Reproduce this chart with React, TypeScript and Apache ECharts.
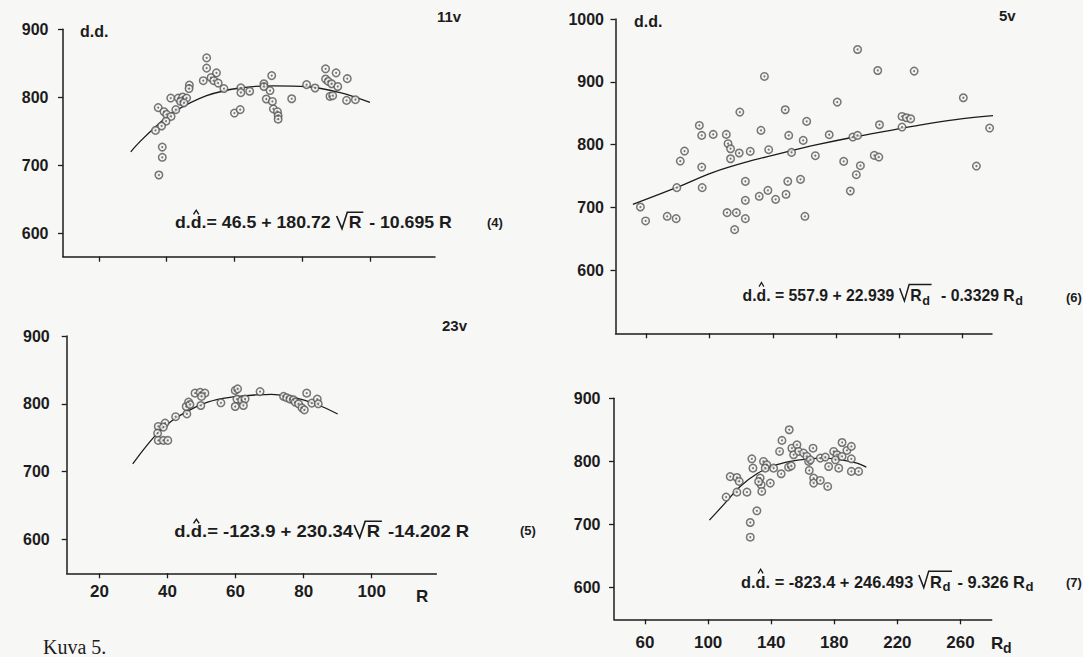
import React, { useEffect, useRef } from "react";
import * as echarts from "echarts";

// ---------- data ----------
const ticksR = [20, 40, 60, 80, 100];
const ticksRd = [60, 100, 140, 180, 220, 260];
const ticksDD = [600, 700, 800, 900];
const ticksDD5v = [600, 700, 800, 900, 1000];

// panel 11v : R vs d.d.
const pts11v: [number, number][] = [
  [51.8, 858], [51.8, 843], [50.8, 824.5], [53.1, 829], [54.7, 836], [53.9, 824.5], [55.2, 821], [56.9, 813],
  [46.7, 818], [46.6, 813], [41.2, 799], [43.4, 799], [44.7, 800.6], [45.9, 799], [44.1, 794], [45.1, 792],
  [42.7, 782], [37.5, 785], [39.2, 779], [40.0, 775], [41.3, 772], [39.8, 765], [38.5, 758], [36.7, 751.5],
  [38.7, 727], [38.7, 712], [37.7, 686], [61.9, 814], [61.9, 807], [64.5, 809], [60.0, 777], [61.7, 782],
  [71.0, 832], [68.7, 820], [68.7, 816], [70.5, 810], [69.4, 797.6], [71.2, 794], [71.5, 783], [72.7, 779],
  [72.9, 773], [72.9, 768], [76.9, 798], [81.3, 818.7], [83.8, 813.8], [86.9, 842], [90.0, 836], [86.9, 827],
  [87.7, 823.5], [88.7, 820], [90.5, 816], [93.3, 827.5], [88.2, 801.5], [89.0, 802.5], [93.1, 795.6], [95.7, 796.6],
];
const curve11v: [number, number][] = [
  [29.4, 720], [32.1, 735], [37, 758], [41.9, 778], [51.8, 802.5], [61.6, 813.8], [71.5, 817], [81.3, 816], [91.2, 807], [100, 792.6],
];

// panel 23v : R vs d.d.
const pts23v: [number, number][] = [
  [37.3, 766.6], [39.3, 771.5], [37.1, 756.7], [38.8, 765.6], [37.3, 746], [38.8, 746], [40.1, 746], [42.4, 781],
  [45.7, 785], [45.5, 796], [46.2, 802.5], [46.6, 799], [48.1, 815.7], [49.6, 817], [51, 815.7], [50, 810.8],
  [49.8, 797.5], [55.7, 801.5], [59.9, 819.7], [60.6, 822], [60.4, 807], [61.8, 805], [62.8, 807], [62.3, 797.5],
  [59.9, 796], [67.2, 818], [74.1, 811], [75, 809], [76, 807], [77, 806], [77.5, 802.5], [78.5, 800],
  [79.5, 794], [80.2, 791], [80.9, 815.7], [82.4, 801], [84, 807], [84.3, 800],
];
const curve23v: [number, number][] = [
  [29.8, 711.5], [36.4, 753], [41.3, 775], [46.2, 790], [51, 801], [55.9, 807.5], [60.8, 811], [65.7, 813], [70.6, 814],
  [75.5, 811], [80.4, 805], [85.3, 796], [90, 785],
];

// panel 5v : Rd vs d.d.
const pts5v: [number, number][] = [
  [56, 700.9], [59.3, 678.7], [73, 686.1], [78.7, 682.4], [79.1, 731.7], [81.3, 774], [84, 789.9], [93.4, 830.7],
  [94.9, 814.8], [94.9, 764.5], [95.2, 731.7], [102.2, 816.4], [110.5, 816.4], [111.6, 801.6], [113.2, 793.6], [113.2, 777.7],
  [111, 691.9], [116.9, 691.9], [115.8, 664.9], [119.1, 851.9], [118.7, 786.8], [122.6, 741.7], [122.6, 711.5], [122.6, 682.4],
  [125.7, 789.4], [131.4, 717.9], [132.5, 822.8], [134.7, 908.6], [136.9, 727.4], [137.4, 792.1], [141.8, 713.1], [147.9, 855.6],
  [148.4, 721.1], [149.5, 741.7], [150.1, 814.8], [151.9, 787.8], [157.6, 744.9], [159.3, 806.9], [160.4, 686.1], [161.5, 837.1],
  [167, 782.5], [175.8, 815.9], [180.9, 867.8], [185, 773.5], [189.2, 726.4], [190.8, 812.2], [193, 752.3], [193.8, 951.5],
  [193.8, 814.8], [195.6, 766.6], [204.4, 783], [207.3, 780.4], [206.6, 918.1], [207.7, 831.8], [222, 828.1], [222, 845],
  [224.8, 842.9], [227.5, 841.3], [229.7, 917.1], [260.9, 874.7], [269.2, 766.1], [277.6, 826.5],
];
const curve5v: [number, number][] = [
  [51.2, 705], [79.1, 732], [102.2, 756], [124.2, 773], [146.2, 787], [168.1, 800], [190.1, 811.5], [212.1, 821.7],
  [234.1, 831.5], [256, 840], [281.3, 846.6],
];

// panel (7) : Rd vs d.d.
const pts7: [number, number][] = [
  [111.4, 743.5], [114, 776], [118.2, 774.6], [119.7, 768.3], [118.2, 751.4], [124.6, 751.4], [127.7, 804.2], [128.4, 789.4],
  [126.7, 703.3], [126.7, 680], [130.9, 721.8], [133, 773.6], [133.6, 763], [134, 752.5], [132, 768], [135.1, 800],
  [137.2, 794.7], [136.2, 789.4], [139.4, 765.7], [141.5, 789.4], [145.3, 815.8], [146.3, 780.5], [146.8, 833.3], [151.4, 850.2],
  [151, 791], [152.7, 793], [153.1, 821], [154.2, 810.6], [156.3, 826.4], [157.4, 815.8], [160.5, 813.2], [162.6, 808],
  [163.7, 800], [164.8, 802.6], [166.5, 821], [164.1, 785.7], [166.9, 773.6], [166.9, 765.7], [171.1, 769.9], [175.8, 760.4],
  [171.1, 805.3], [174.3, 806.9], [176.4, 792], [179.6, 815.8], [181.7, 810.6], [182.8, 789.4], [180.7, 802.6], [184.9, 830],
  [184.9, 807.9], [188, 817.4], [190.8, 823.8], [190.8, 804.2], [190.8, 784.2], [195.4, 784.2],
];
const curve7: [number, number][] = [
  [100.8, 707], [109.7, 731.3], [120.3, 760.4], [130.9, 780.5], [141.5, 793], [152.1, 800], [162.6, 803.7], [173.2, 805.3],
  [183.8, 802.6], [194.4, 797.4], [200.3, 791],
];

// ---------- styling ----------
const INK = "#1c1c1c";
const FONT = "'Liberation Sans', Arial, sans-serif";

type Seg = { t?: string; sub?: string; rad?: Seg[] };

let measureCtx: CanvasRenderingContext2D | null = null;
function measure(text: string, size: number): number {
  if (!measureCtx) measureCtx = document.createElement("canvas").getContext("2d");
  if (!measureCtx) return text.length * size * 0.55;
  measureCtx.font = `bold ${size}px 'Liberation Sans'`;
  return measureCtx.measureText(text).width;
}

function txt(x: number, y: number, text: string, size: number, weight = "bold", family = FONT, va = "middle") {
  return {
    type: "text",
    x,
    y,
    silent: true,
    style: {
      text,
      fill: INK,
      fontSize: size,
      fontWeight: weight,
      fontFamily: family,
      align: "left",
      verticalAlign: va,
      textAlign: "left",
      textVerticalAlign: va,
    },
  };
}

function buildEq(x0: number, y0: number, targetW: number, segs: Seg[], fs: number) {
  const children: any[] = [];
  let cx = 0;
  const subFs = fs * 0.8;
  const place = (seg: Seg) => {
    if (seg.t !== undefined) {
      children.push(txt(cx, 0, seg.t, fs));
      cx += measure(seg.t, fs);
    } else if (seg.sub !== undefined) {
      children.push(txt(cx + 0.5, fs * 0.32, seg.sub, subFs));
      cx += measure(seg.sub, subFs) + 0.5;
    } else if (seg.rad) {
      const rx = cx + fs * 0.05;
      const armW = fs * 0.6;
      cx = rx + armW + fs * 0.08;
      seg.rad.forEach(place);
      const endX = cx + fs * 0.1;
      children.push({
        type: "polyline",
        silent: true,
        shape: {
          points: [
            [rx, -0.42 * fs],
            [rx + 0.3 * fs, 0.37 * fs],
            [rx + armW, -0.66 * fs],
            [endX, -0.66 * fs],
          ],
        },
        style: { stroke: INK, lineWidth: 1.5, fill: null },
      });
      cx = endX + fs * 0.05;
    }
  };
  segs.forEach(place);
  const hx = measure("d.", fs) + measure("d", fs) / 2;
  children.push({
    type: "polyline",
    silent: true,
    shape: { points: [[hx - 0.15 * fs, -0.52 * fs], [hx, -0.78 * fs], [hx + 0.15 * fs, -0.52 * fs]] },
    style: { stroke: INK, lineWidth: 1.3, fill: null },
  });
  return { type: "group", x: x0, y: y0, scaleX: targetW / cx, children };
}

const plain = (v: number) => String(v);

function xAx(gridIndex: number, min: number, max: number, ticks: number[], showLabels: boolean, margin: number) {
  return {
    type: "value",
    gridIndex,
    min,
    max,
    splitLine: { show: false },
    axisLine: { show: true, onZero: false, lineStyle: { color: INK, width: 1.5 } },
    axisTick: { show: true, length: 5, customValues: ticks, lineStyle: { color: INK, width: 1.3 } },
    axisLabel: {
      show: showLabels,
      customValues: ticks,
      formatter: plain,
      margin,
      fontSize: 17,
      fontWeight: "bold",
      fontFamily: FONT,
      color: INK,
    },
  };
}

function yAx(gridIndex: number, min: number, max: number, ticks: number[], margin: number) {
  return {
    type: "value",
    gridIndex,
    min,
    max,
    splitLine: { show: false },
    axisLine: { show: true, onZero: false, lineStyle: { color: INK, width: 1.5 } },
    axisTick: { show: true, length: 5, customValues: ticks, lineStyle: { color: INK, width: 1.3 } },
    axisLabel: {
      show: true,
      customValues: ticks,
      formatter: plain,
      margin,
      fontSize: 16,
      fontWeight: "bold",
      fontFamily: FONT,
      color: INK,
    },
  };
}

function panelSeries(idx: number, pts: [number, number][], curve: [number, number][]) {
  return [
    {
      type: "line",
      xAxisIndex: idx,
      yAxisIndex: idx,
      data: curve,
      smooth: 0.35,
      showSymbol: false,
      symbol: "none",
      silent: true,
      z: 2,
      lineStyle: { color: INK, width: 1.3 },
    },
    {
      type: "scatter",
      xAxisIndex: idx,
      yAxisIndex: idx,
      data: pts,
      symbol: "circle",
      symbolSize: 7.5,
      silent: true,
      z: 3,
      itemStyle: { color: "#f2f2f2", borderColor: "#555555", borderWidth: 1.5 },
    },
    {
      type: "scatter",
      xAxisIndex: idx,
      yAxisIndex: idx,
      data: pts,
      symbol: "circle",
      symbolSize: 2,
      silent: true,
      z: 4,
      itemStyle: { color: "#555555" },
    },
  ];
}

export default function App() {
  const ref = useRef<HTMLDivElement>(null);
  useEffect(() => {
    if (!ref.current) return;
    const chart = echarts.init(ref.current, null, { renderer: "svg" });
    const option: any = {
      animation: false,
      backgroundColor: "#f7f7f6",
      grid: [
        { left: 63, top: 29.3, width: 372, height: 227.4, outerBoundsMode: "none" },
        { left: 66.7, top: 336, width: 369.7, height: 237.3, outerBoundsMode: "none" },
        { left: 615.5, top: 19, width: 376.5, height: 314.3, outerBoundsMode: "none" },
        { left: 614, top: 398.3, width: 377.7, height: 221, outerBoundsMode: "none" },
      ],
      xAxis: [
        xAx(0, 9.4, 119.2, ticksR, false, 10),
        xAx(1, 10.4, 119, ticksR, true, 10),
        xAx(2, 40.2, 279.1, ticksRd, false, 10),
        xAx(3, 40.3, 279.8, ticksRd, true, 15),
      ],
      yAxis: [
        yAx(0, 566, 900, ticksDD, 14.5),
        yAx(1, 550, 900, ticksDD, 17),
        yAx(2, 500, 1000, ticksDD5v, 11.5),
        yAx(3, 550, 900, ticksDD, 13.5),
      ],
      series: [
        ...panelSeries(0, pts11v, curve11v),
        ...panelSeries(1, pts23v, curve23v),
        ...panelSeries(2, pts5v, curve5v),
        ...panelSeries(3, pts7, curve7),
      ],
      graphic: [
        txt(80, 31, "d.d.", 16),
        txt(437, 16, "11v", 15),
        txt(487, 222, "(4)", 13),
        buildEq(175, 222.7, 277, [{ t: "d.d.= 46.5 + 180.72 " }, { rad: [{ t: "R" }] }, { t: " - 10.695 R" }], 16),

        txt(442, 325, "23v", 15),
        txt(520, 530, "(5)", 13),
        buildEq(174.3, 531.7, 295, [{ t: "d.d.= -123.9 + 230.34" }, { rad: [{ t: "R" }] }, { t: " -14.202 R" }], 16),
        txt(416, 596, "R", 17),

        txt(634, 21, "d.d.", 16),
        txt(999, 15, "5v", 15),
        txt(1066, 297, "(6)", 13),
        buildEq(742.6, 295, 280.4, [
          { t: "d.d. = 557.9 + 22.939 " },
          { rad: [{ t: "R" }, { sub: "d" }] },
          { t: "  - 0.3329 R" },
          { sub: "d" },
        ], 16),

        txt(1066, 582, "(7)", 13),
        buildEq(741, 581.7, 292.6, [
          { t: "d.d. = -823.4 + 246.493 " },
          { rad: [{ t: "R" }, { sub: "d" }] },
          { t: " - 9.326 R" },
          { sub: "d" },
        ], 16),
        txt(991, 643, "R", 17),
        txt(1003, 648, "d", 14),

        txt(43, 637, "Kuva 5.", 20, "normal", "'Liberation Serif', serif", "top"),
      ],
    };
    chart.setOption(option);
    return () => chart.dispose();
  }, []);
  return (
    <div
      ref={ref}
      style={{ position: "absolute", left: 0, top: 0, width: 1083, height: 657 }}
    />
  );
}
